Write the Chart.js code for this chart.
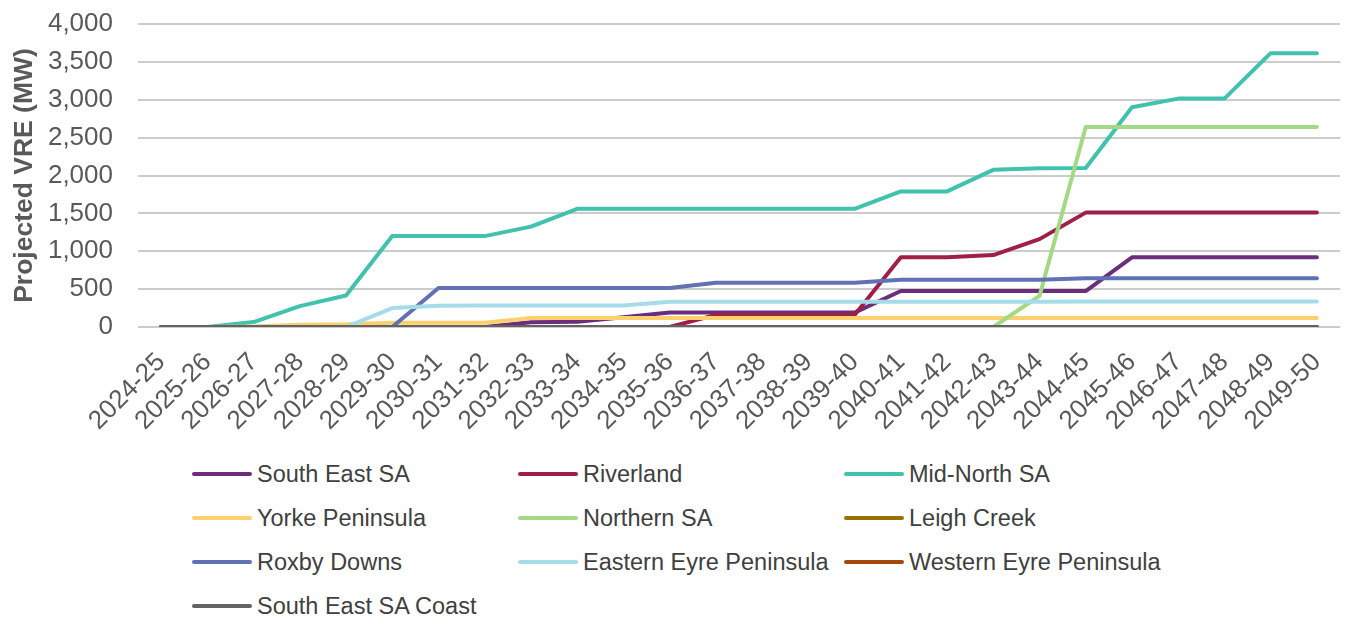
<!DOCTYPE html>
<html>
<head>
<meta charset="utf-8">
<script src="https://cdn.jsdelivr.net/npm/chart.js@4/dist/chart.umd.min.js"></script>
<style>
  html, body { margin: 0; padding: 0; background: #ffffff; }
  #wrap { position: relative; width: 1345px; height: 618px; overflow: hidden; font-family: "Liberation Sans", Arial, sans-serif; }
  #c { position: absolute; left: 0; top: 0; }
  .lg { position: absolute; height: 30px; display: flex; align-items: center; white-space: nowrap; }
  .lg .sw { width: 60px; height: 4px; border-radius: 2px; margin-right: 5px; }
  .lg .tx { font-size: 23.5px; color: #404040; }
</style>
</head>
<body>
<div id="wrap">
  <canvas id="c" width="1345" height="450"></canvas>
</div>
<script>
const categories = ["2024-25","2025-26","2026-27","2027-28","2028-29","2029-30","2030-31","2031-32","2032-33","2033-34","2034-35","2035-36","2036-37","2037-38","2038-39","2039-40","2040-41","2041-42","2042-43","2043-44","2044-45","2045-46","2046-47","2047-48","2048-49","2049-50"];

const southEastSA     = [0,0,0,0,0,0,0,0,62,70,130,190,190,190,190,190,475,475,475,475,475,920,920,920,920,920];
const riverland       = [0,0,0,0,0,0,0,0,0,0,0,0,160,160,160,160,920,920,950,1160,1510,1510,1510,1510,1510,1510];
const midNorthSA      = [0,0,65,275,415,1200,1200,1200,1325,1560,1560,1560,1560,1560,1560,1560,1790,1790,2075,2095,2100,2900,3015,3015,3615,3615];
const yorkePeninsula  = [0,0,5,30,35,55,55,55,118,118,118,118,118,118,118,118,118,118,118,118,118,118,118,118,118,118];
const northernSA      = [0,0,0,0,0,0,0,0,0,0,0,0,0,0,0,0,0,0,0,410,2640,2640,2640,2640,2640,2640];
const leighCreek      = [0,0,0,0,0,0,0,0,0,0,0,0,0,0,0,0,0,0,0,0,0,0,0,0,0,0];
const roxbyDowns      = [0,0,0,0,0,0,515,515,515,515,515,515,585,585,585,585,625,625,625,625,645,645,645,645,645,645];
const easternEyre     = [0,0,0,0,0,250,282,285,285,285,285,332,332,332,332,332,332,332,332,332,335,335,335,335,335,335];
const westernEyre     = [0,0,0,0,0,0,0,0,0,0,0,0,0,0,0,0,0,0,0,0,0,0,0,0,0,0];
const southEastSACoast= [0,0,0,0,0,0,0,0,0,0,0,0,0,0,0,0,0,0,0,0,0,0,0,0,0,0];

const seriesNames  = ["South East SA","Riverland","Mid-North SA","Yorke Peninsula","Northern SA","Leigh Creek","Roxby Downs","Eastern Eyre Peninsula","Western Eyre Peninsula","South East SA Coast"];
const seriesData   = [southEastSA, riverland, midNorthSA, yorkePeninsula, northernSA, leighCreek, roxbyDowns, easternEyre, westernEyre, southEastSACoast];
const seriesColors = ["#6C2E7C","#A01F45","#41C2AC","#FDD06E","#A2D982","#987200","#6071B4","#A5DCE8","#A4480C","#65625F"];

const yTicks = { min: 0, max: 4000, step: 500 };
const yTitle = "Projected VRE (MW)";

const FONT = "'Liberation Sans', Arial, sans-serif";

const datasets = seriesNames.map((name, i) => ({
  label: name,
  data: seriesData[i],
  borderColor: seriesColors[i],
  backgroundColor: seriesColors[i],
  borderWidth: 4,
  borderCapStyle: 'round',
  borderJoinStyle: 'round',
  pointRadius: 0,
  pointHoverRadius: 0,
  tension: 0,
  fill: false,
  order: seriesNames.length - i
}));

new Chart(document.getElementById('c'), {
  type: 'line',
  data: { labels: categories, datasets },
  options: {
    responsive: false,
    animation: false,
    devicePixelRatio: 1,
    layout: { padding: { left: 0, right: 5, top: 24, bottom: 0 } },
    plugins: { legend: { display: false }, tooltip: { enabled: false } },
    scales: {
      x: {
        type: 'category',
        offset: true,
        grid: { display: false, drawTicks: true, tickLength: 18, tickColor: 'rgba(0,0,0,0)' },
        border: { display: false },
        ticks: {
          autoSkip: false,
          minRotation: 45,
          maxRotation: 45,
          padding: 2,
          color: '#595959',
          font: { family: FONT, size: 26 }
        },
        afterFit: (s) => { s.height = 123; }
      },
      y: {
        min: yTicks.min,
        max: yTicks.max,
        grid: { color: '#cccccc', lineWidth: 2, drawTicks: true, tickLength: 22, tickColor: 'rgba(0,0,0,0)' },
        border: { display: false },
        ticks: {
          stepSize: yTicks.step,
          padding: 3,
          color: '#595959',
          font: { family: FONT, size: 26 },
          callback: (v) => v.toLocaleString('en-US')
        },
        title: {
          display: true,
          text: yTitle,
          color: '#595959',
          font: { family: FONT, size: 26.5, weight: 'bold' },
          padding: { top: 9, bottom: 0 }
        },
        afterFit: (s) => { s.width = 138; }
      }
    }
  }
});

// HTML legend in 3 columns
const wrap = document.getElementById('wrap');
const colX = [192, 518, 844];
const rowY = [474, 518, 562, 606];
seriesNames.forEach((name, i) => {
  const col = i % 3, row = Math.floor(i / 3);
  const d = document.createElement('div');
  d.className = 'lg';
  d.style.left = colX[col] + 'px';
  d.style.top = (rowY[row] - 15) + 'px';
  const sw = document.createElement('div');
  sw.className = 'sw';
  sw.style.background = seriesColors[i];
  const tx = document.createElement('span');
  tx.className = 'tx';
  tx.textContent = name;
  d.appendChild(sw); d.appendChild(tx);
  wrap.appendChild(d);
});
</script>
</body>
</html>
